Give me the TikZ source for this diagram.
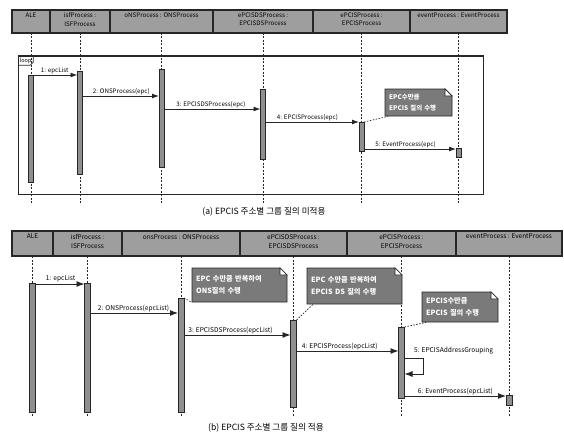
\documentclass[tikz,border=0pt]{standalone}
\usepackage{fontspec}
\setmainfont{Noto Sans CJK KR}
\usetikzlibrary{arrows.meta}
\definecolor{hdrgray}{gray}{0.62}
\definecolor{bargray}{gray}{0.56}
\definecolor{notegray}{gray}{0.48}
\definecolor{ink}{gray}{0.15}
% note with folded corner: #1 style, #2 name, #3 x, #4 y, #5 w, #6 h, #7 text
\newcommand\mknote[7]{%
  \filldraw[notebody] (#3,#4) -- ++({#5-7},0) -- ++(7,7) -- ++(0,{#6-7}) -- ++({-#5},0) -- cycle;
  \filldraw[notefold] ({#3+#5-7},#4) -- ++(0,7) -- ++(7,0) -- cycle;
  \pgfmathsetmacro\notetw{#5-8}%
  \node[#1, text width=\notetw pt, minimum height=#6pt, anchor=north west] (#2) at (#3,#4) {#7};
}
\begin{document}
\begin{tikzpicture}[x=1pt,y=-1pt,
  hcell/.style={draw=ink, line width=1.1pt, fill=hdrgray, inner sep=0pt, outer sep=0pt, anchor=north west},
  hlabA/.style={anchor=north, font=\fontsize{6.2}{8.5}\selectfont, align=center, inner sep=0pt, yshift=-2.5pt},
  hlabB/.style={anchor=north, font=\fontsize{6.5}{9}\selectfont, align=center, inner sep=0pt, yshift=-3pt},
  life/.style={draw=ink, dashed, dash pattern=on 2pt off 1.5pt, line width=0.7pt},
  barA/.style={draw=ink, fill=bargray, line width=0.9pt, minimum width=5pt, inner sep=0pt, outer sep=0pt, anchor=north},
  barB/.style={draw=ink, fill=bargray, line width=0.9pt, minimum width=6pt, inner sep=0pt, outer sep=0pt, anchor=north},
  msgA/.style={draw=ink, line width=0.9pt, -{Latex[length=7pt,width=5pt]}},
  msgB/.style={draw=ink, line width=0.9pt, -{Latex[length=8pt,width=6pt]}},
  lblA/.style={font=\fontsize{6.2}{7}\selectfont, inner sep=1pt, anchor=south west},
  lblB/.style={font=\fontsize{6.6}{7.5}\selectfont, inner sep=1pt, anchor=south west},
  notebody/.style={fill=notegray, draw=ink, line width=0.9pt},
  notefold/.style={fill=white, draw=ink, line width=0.7pt},
  notetxtA/.style={font=\fontsize{6.4}{10.5}\selectfont\bfseries, text=white, align=left, inner xsep=4pt, inner ysep=0pt},
  notetxtB/.style={font=\fontsize{7.2}{12}\selectfont\bfseries, text=white, align=left, inner xsep=4pt, inner ysep=0pt},
  noteline/.style={draw=ink, dashed, dash pattern=on 1.5pt off 1.5pt, line width=0.7pt},
  framebox/.style={draw=ink, line width=1pt},
  captxt/.style={font=\fontsize{8.6}{10}\selectfont, inner sep=0pt}
]
\useasboundingbox (0,0) rectangle (564,436);

%% ================= (a) =================
\node[hcell, minimum width=38pt, minimum height=23pt, label={[hlabA]north:ALE}] (hA) at (12,10) {};
\node[hcell, minimum width=60pt, minimum height=23pt, label={[hlabA]north:isfProcess :\\ISFProcess}] (hI) at (50,10) {};
\node[hcell, minimum width=103pt, minimum height=23pt, label={[hlabA]north:oNSProcess : ONSProcess}] (hO) at (110,10) {};
\node[hcell, minimum width=100pt, minimum height=23pt, label={[hlabA]north:ePCISDSProcess :\\EPCISDSProcess}] (hD) at (213,10) {};
\node[hcell, minimum width=97pt, minimum height=23pt, label={[hlabA]north:ePCISProcess :\\EPCISProcess}] (hE) at (313,10) {};
\node[hcell, minimum width=97pt, minimum height=23pt, label={[hlabA]north:eventProcess : EventProcess}] (hV) at (410,10) {};

\foreach \h in {hA,hI,hO,hD,hE,hV}{
  \draw[life] (\h.south) -- (\h.south |- 0,203);
}

% loop frame
\draw[framebox] (18,56) rectangle (483,194);
\node[font=\fontsize{5.5}{6}\selectfont, inner sep=1.6pt, anchor=north west] (lp) at (18,56) {loop};
\draw[framebox, line width=0.7pt] (lp.south west) -- ([xshift=-3pt]lp.south east) -- ([yshift=3pt]lp.south east) -- (lp.north east);

% activations
\node[barA, minimum height=107pt] (aA) at (hA.south |- 0,75) {};
\node[barA, minimum height=103pt] (aI) at (hI.south |- 0,71) {};
\node[barA, minimum height=98pt] (aO) at (hO.south |- 0,69) {};
\node[barA, minimum height=70pt] (aD) at (hD.south |- 0,89) {};
\node[barA, minimum height=29pt] (aE) at (hE.south |- 0,122) {};
\node[barA, minimum height=9pt] (aV) at (hV.south |- 0,148) {};

% messages
\draw[msgA] (aA.east |- 0,75) -- (aI.west |- 0,75) node[lblA, pos=0, xshift=6pt] {1: epcList};
\draw[msgA] (aI.east |- 0,96) -- (aO.west |- 0,96) node[lblA, pos=0, xshift=9pt] {2: ONSProcess(epc)};
\draw[msgA] (aO.east |- 0,109) -- (aD.west |- 0,109) node[lblA, pos=0, xshift=11pt] {3: EPCISDSProcess(epc)};
\draw[msgA] (aD.east |- 0,122) -- (aE.west |- 0,122) node[lblA, pos=0, xshift=10pt] {4: EPCISProcess(epc)};
\draw[msgA] (aE.east |- 0,149) -- (aV.west |- 0,149) node[lblA, pos=0, xshift=10pt] {5: EventProcess(epc)};

% note
\mknote{notetxtA}{nA}{385}{89}{67}{27}{EPC수만큼\\EPCIS 질의 수행}
\draw[noteline] (aE.north east) -- ([xshift=3pt]nA.south west);

\node[captxt] (capA) at (264,212) {(a) EPCIS 주소별 그룹 질의 미적용};

%% ================= (b) =================
\node[hcell, minimum width=41pt, minimum height=25pt, label={[hlabB]north:ALE}] (gA) at (12,231) {};
\node[hcell, minimum width=69pt, minimum height=25pt, label={[hlabB]north:isfProcess :\\ISFProcess}] (gI) at (53,231) {};
\node[hcell, minimum width=118pt, minimum height=25pt, label={[hlabB]north:onsProcess : ONSProcess}] (gO) at (122,231) {};
\node[hcell, minimum width=107pt, minimum height=25pt, label={[hlabB]north:ePCISDSProcess :\\EPCISDSProcess}] (gD) at (240,231) {};
\node[hcell, minimum width=109pt, minimum height=25pt, label={[hlabB]north:ePCISProcess :\\EPCISProcess}] (gE) at (347,231) {};
\node[hcell, minimum width=106pt, minimum height=25pt, label={[hlabB]north:eventProcess : EventProcess}] (gV) at (456,231) {};

\foreach \h in {gA,gI,gO,gD,gE,gV}{
  \draw[life] (\h.south) -- (\h.south |- 0,416);
}

% notes (drawn over lifelines)
\mknote{notetxtB}{n1}{192}{268}{95}{34}{EPC 수만큼 반복하여\\ONS질의 수행}
\mknote{notetxtB}{n2}{307}{268}{95}{36}{EPC 수만큼 반복하여\\EPCIS DS 질의 수행}
\mknote{notetxtB}{n3}{422}{292}{76}{30}{EPCIS수만큼\\EPCIS 질의 수행}

% activations
\node[barB, minimum height=129pt] (bA) at (gA.south |- 0,283) {};
\node[barB, minimum height=129pt] (bI) at (gI.south |- 0,283) {};
\node[barB, minimum height=114pt] (bO) at (gO.south |- 0,298) {};
\node[barB, minimum height=87pt] (bD) at (gD.south |- 0,320) {};
\node[barB, minimum height=71pt] (bE) at (gE.south |- 0,327) {};
\node[barB, minimum height=10pt] (bV) at (gV.south |- 0,395) {};

\draw[noteline] (bO.north east) -- (n1.south west);
\draw[noteline] (bD.north east) -- ([xshift=6pt]n2.south west);
\draw[noteline] (bE.north east) -- ([xshift=4pt]n3.south west);

% messages
\draw[msgB] (bA.east |- 0,284) -- (bI.west |- 0,284) node[lblB, pos=0, xshift=9pt, yshift=1pt] {1: epcList};
\draw[msgB] (bI.east |- 0,313) -- (bO.west |- 0,313) node[lblB, pos=0, xshift=6pt] {2: ONSProcess(epcList)};
\draw[msgB] (bO.east |- 0,335) -- (bD.west |- 0,335) node[lblB, pos=0, xshift=3pt] {3: EPCISDSProcess(epcList)};
\draw[msgB] (bD.east |- 0,351) -- (bE.west |- 0,351) node[lblB, pos=0, xshift=4pt] {4: EPCISProcess(epcList)};
\draw[msgB] (bE.east |- 0,358) -- ++(19,0) |- (bE.east |- 0,374);
\node[lblB] (l5) at (413,355) {5: EPCISAddressGrouping};
\draw[msgB] (bE.east |- 0,396) -- (bV.west |- 0,396) node[lblB, pos=0, xshift=12pt] {6: EventProcess(epcList)};

\node[captxt] (capB) at (266,428) {(b) EPCIS 주소별 그룹 질의 적용};
\end{tikzpicture}
\end{document}
